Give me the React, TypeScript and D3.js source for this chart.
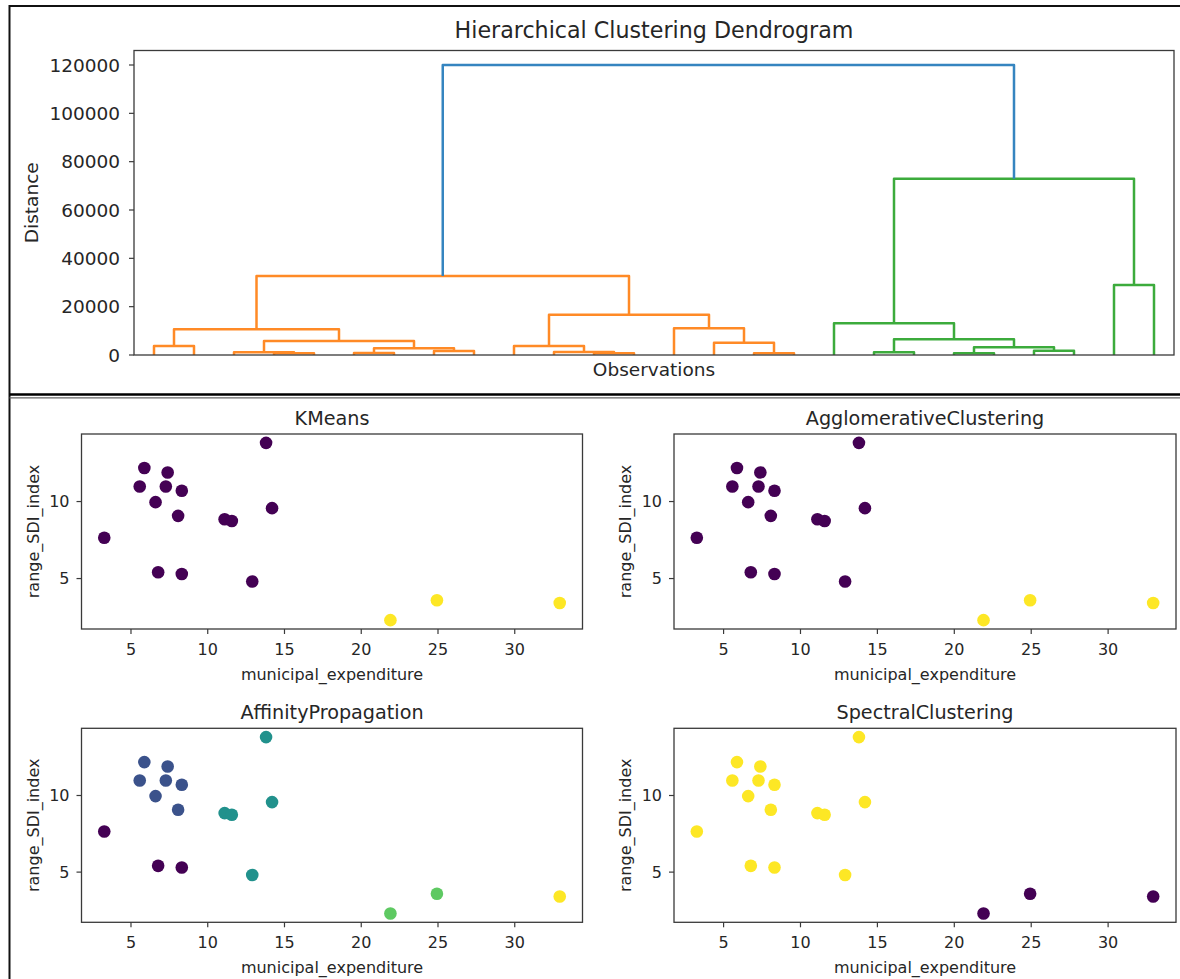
import React from "react";
import * as d3 from "d3";

// dendrogram: leaves 0..25 in display order, merges numbered from 26 up (scipy style)
const nLeaves = 26;
const linkage: [number, number, number][] = [
  [3, 4, 700],
  [2, 26, 1120],
  [0, 1, 3730],
  [5, 6, 800],
  [7, 8, 1660],
  [29, 30, 2770],
  [27, 31, 5800],
  [28, 32, 10640],
  [11, 12, 700],
  [10, 34, 1240],
  [9, 35, 3730],
  [15, 16, 700],
  [14, 37, 5090],
  [13, 38, 11060],
  [36, 39, 16690],
  [33, 40, 32700],
  [20, 21, 700],
  [22, 23, 1780],
  [42, 43, 3190],
  [18, 19, 1120],
  [45, 44, 6500],
  [17, 46, 13130],
  [24, 25, 28990],
  [47, 48, 72900],
  [41, 49, 120000],
];
const distanceTicks = [0, 20000, 40000, 60000, 80000, 100000, 120000];
const clusterColors = ["#ff8a26", "#3cab3c", "#d62728", "#9467bd"];
const aboveColor = "#3585c0";

// scatter data
const expenditure = [3.26, 5.57, 5.87, 6.6, 6.77, 7.27, 7.39, 8.07, 8.31, 8.31, 11.1, 11.57, 12.9, 13.8, 14.19, 21.9, 24.93, 32.93];
const sdiIndex = [7.65, 10.98, 12.18, 9.96, 5.41, 10.98, 11.89, 9.07, 10.7, 5.3, 8.85, 8.74, 4.81, 13.81, 9.57, 2.3, 3.59, 3.41];

const kmeansLabels = [0, 0, 0, 0, 0, 0, 0, 0, 0, 0, 0, 0, 0, 0, 0, 1, 1, 1];
const agglomerativeLabels = [0, 0, 0, 0, 0, 0, 0, 0, 0, 0, 0, 0, 0, 0, 0, 1, 1, 1];
const affinityLabels = [0, 1, 1, 1, 0, 1, 1, 1, 1, 0, 2, 2, 2, 2, 2, 3, 3, 4];
const spectralLabels = [1, 1, 1, 1, 1, 1, 1, 1, 1, 1, 1, 1, 1, 1, 1, 0, 0, 0];

const xTicks = [5, 10, 15, 20, 25, 30];
const yTicks = [5, 10];

const FONT = "DejaVu Sans, sans-serif";
const INK = "#262626";
const SPINE = "#3a3a3a";

function Dendrogram() {
  const left = 134, right = 1174, top = 50.5, bottom = 355;
  const dmax = d3.max(linkage, d => d[2]) as number;
  const x = d3.scaleLinear().domain([0, nLeaves * 10]).range([left, right]);
  const y = d3.scaleLinear().domain([0, dmax * 1.05]).range([bottom, top]);

  const pos: { x: number; y: number }[] = d3.range(nLeaves).map(i => ({ x: 5 + 10 * i, y: 0 }));
  linkage.forEach(([a, b, h]) => pos.push({ x: (pos[a].x + pos[b].x) / 2, y: h }));

  // colour every link under 0.7*max by its cluster, the rest above
  const threshold = 0.7 * dmax;
  const colors: string[] = [];
  let k = 0;
  const paint = (id: number, c: string | null) => {
    if (id < nLeaves) return;
    const m = id - nLeaves;
    const [a, b, h] = linkage[m];
    let col = c;
    if (col === null && h < threshold) col = clusterColors[k++ % clusterColors.length];
    colors[m] = col ?? aboveColor;
    paint(a, col);
    paint(b, col);
  };
  paint(nLeaves + linkage.length - 1, null);

  return (
    <g>
      <text x={(left + right) / 2} y={38} textAnchor="middle" fontSize={22.2} fontFamily={FONT} fill={INK}>
        Hierarchical Clustering Dendrogram
      </text>
      {linkage.map(([a, b, h], i) => {
        const pa = pos[a], pb = pos[b];
        const d = `M${x(pa.x)},${y(pa.y)}V${y(h)}H${x(pb.x)}V${y(pb.y)}`;
        return <path key={i} d={d} fill="none" stroke={colors[i]} strokeWidth={2.5} strokeLinejoin="round" />;
      })}
      <rect x={left} y={top} width={right - left} height={bottom - top} fill="none" stroke={SPINE} strokeWidth={1.3} />
      {distanceTicks.map(t => (
        <g key={t}>
          <line x1={left - 5} x2={left} y1={y(t)} y2={y(t)} stroke={SPINE} strokeWidth={1.2} />
          <text x={left - 14} y={y(t)} dy="0.36em" textAnchor="end" fontSize={18.5} fontFamily={FONT} fill={INK}>
            {t}
          </text>
        </g>
      ))}
      <text x={(left + right) / 2} y={376} textAnchor="middle" fontSize={18.5} fontFamily={FONT} fill={INK}>
        Observations
      </text>
      <text transform={`translate(38,${(top + bottom) / 2}) rotate(-90)`} textAnchor="middle" fontSize={18.5} fontFamily={FONT} fill={INK}>
        Distance
      </text>
    </g>
  );
}

function ScatterPanel({ x0, x1, y0, y1, title, labels }: { x0: number; x1: number; y0: number; y1: number; title: string; labels: number[] }) {
  const [xmin, xmax] = d3.extent(expenditure) as [number, number];
  const [ymin, ymax] = d3.extent(sdiIndex) as [number, number];
  const px = (xmax - xmin) * 0.05, py = (ymax - ymin) * 0.05;
  const x = d3.scaleLinear().domain([xmin - px, xmax + px]).range([x0, x1]);
  const y = d3.scaleLinear().domain([ymin - py, ymax + py]).range([y1, y0]);
  const color = d3.scaleSequential(d3.interpolateViridis).domain(d3.extent(labels) as [number, number]);
  const cx = (x0 + x1) / 2, cy = (y0 + y1) / 2;
  return (
    <g>
      <text x={cx} y={y0 - 9} textAnchor="middle" fontSize={19.2} fontFamily={FONT} fill={INK}>
        {title}
      </text>
      {expenditure.map((v, i) => (
        <circle key={i} cx={x(v)} cy={y(sdiIndex[i])} r={6.3} fill={color(labels[i])} />
      ))}
      <rect x={x0} y={y0} width={x1 - x0} height={y1 - y0} fill="none" stroke={SPINE} strokeWidth={1.3} />
      {xTicks.map(t => (
        <g key={t}>
          <line x1={x(t)} x2={x(t)} y1={y1} y2={y1 + 5} stroke={SPINE} strokeWidth={1.2} />
          <text x={x(t)} y={y1 + 20} dy="0.36em" textAnchor="middle" fontSize={16} fontFamily={FONT} fill={INK}>
            {t}
          </text>
        </g>
      ))}
      {yTicks.map(t => (
        <g key={t}>
          <line x1={x0 - 5} x2={x0} y1={y(t)} y2={y(t)} stroke={SPINE} strokeWidth={1.2} />
          <text x={x0 - 12} y={y(t)} dy="0.36em" textAnchor="end" fontSize={16} fontFamily={FONT} fill={INK}>
            {t}
          </text>
        </g>
      ))}
      <text x={cx} y={y1 + 51} textAnchor="middle" fontSize={16} fontFamily={FONT} fill={INK}>
        municipal_expenditure
      </text>
      <text transform={`translate(${x0 - 43},${cy}) rotate(-90)`} textAnchor="middle" fontSize={16} fontFamily={FONT} fill={INK}>
        range_SDI_index
      </text>
    </g>
  );
}

export default function App() {
  const W = 1180, H = 979;
  return (
    <div style={{ position: "absolute", left: 0, top: 0, background: "#fff" }}>
      <svg width={W} height={H} viewBox={`0 0 ${W} ${H}`}>
        <rect width={W} height={H} fill="#fff" />
        {/* screenshot frames */}
        <line x1={9.5} x2={W} y1={6} y2={6} stroke="#111" strokeWidth={2} />
        <line x1={9.5} x2={9.5} y1={5} y2={H} stroke="#111" strokeWidth={2} />
        <line x1={9.5} x2={W} y1={394.5} y2={394.5} stroke="#000" strokeWidth={2.5} />
        <line x1={9.5} x2={W} y1={397.8} y2={397.8} stroke="#666" strokeWidth={1.3} />

        <Dendrogram />

        <ScatterPanel x0={81.5} x1={582.5} y0={434} y1={629} title="KMeans" labels={kmeansLabels} />
        <ScatterPanel x0={674} x1={1176} y0={434} y1={629} title="AgglomerativeClustering" labels={agglomerativeLabels} />
        <ScatterPanel x0={81.5} x1={582.5} y0={728.3} y1={922.3} title="AffinityPropagation" labels={affinityLabels} />
        <ScatterPanel x0={674} x1={1176} y0={728.3} y1={922.3} title="SpectralClustering" labels={spectralLabels} />
      </svg>
    </div>
  );
}
